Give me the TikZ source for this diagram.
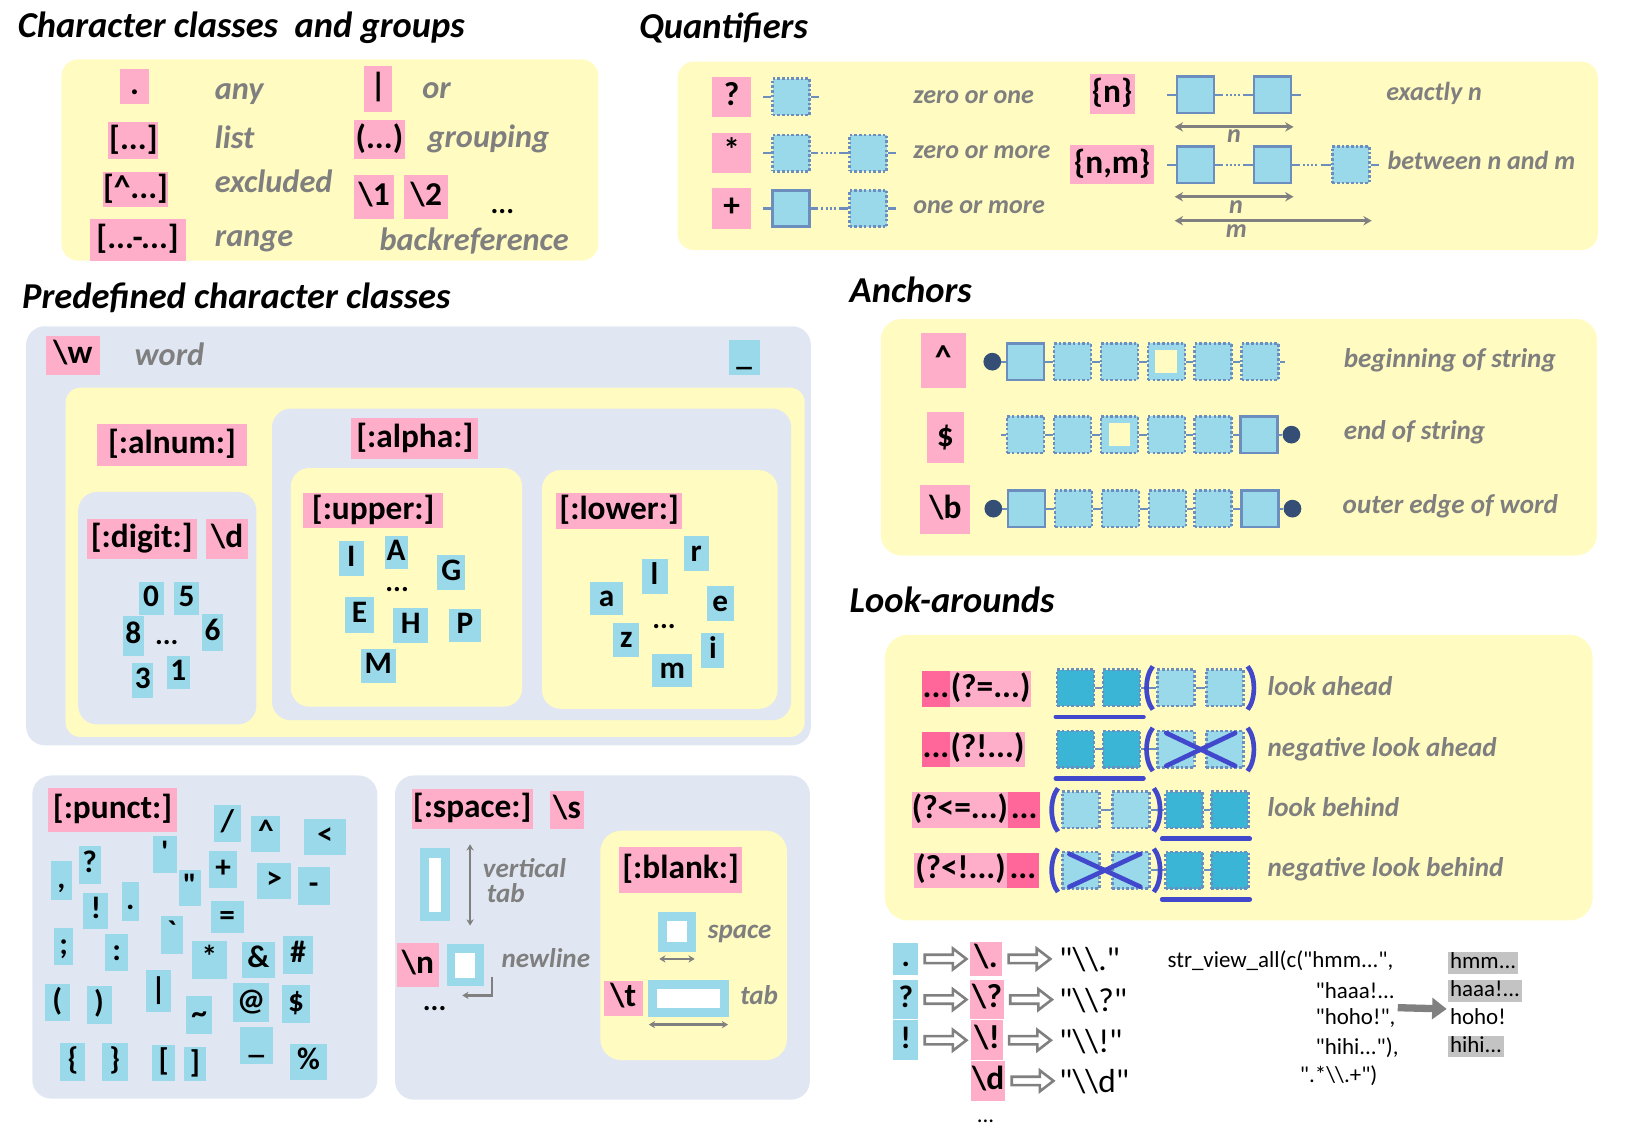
\documentclass[tikz,border=0pt]{standalone}
\usepackage{fontspec}
\setmainfont{Carlito}[Ligatures=TeXOff]
\usetikzlibrary{positioning,calc,arrows.meta}

\definecolor{ylw}{RGB}{255,251,193}
\definecolor{gry}{RGB}{225,231,242}
\definecolor{pnk}{RGB}{255,174,201}
\definecolor{dpnk}{RGB}{255,102,153}
\definecolor{lblu}{RGB}{153,217,234}
\definecolor{dblu}{RGB}{59,181,214}
\definecolor{edge}{RGB}{108,142,191}
\definecolor{navy}{RGB}{52,78,118}
\definecolor{parc}{RGB}{66,72,204}
\definecolor{txtg}{RGB}{127,127,127}
\definecolor{hlg}{RGB}{195,195,195}

\tikzset{
  sechead/.style={anchor=west, inner sep=0pt, font=\fontsize{35}{40}\selectfont\bfseries\itshape},
  lbl/.style={anchor=west, inner sep=0pt, text=txtg, text height=22pt, text depth=7pt, font=\fontsize{31}{36}\selectfont\bfseries\itshape},
  lbm/.style={lbl, text height=18pt, text depth=6pt, font=\fontsize{26}{30}\selectfont\bfseries\itshape},
  lbq/.style={lbl, text height=18pt, text depth=6pt, font=\fontsize{25}{30}\selectfont\bfseries\itshape},
  pk/.style={fill=pnk, inner sep=0pt, text height=23pt, text depth=7pt, font=\fontsize{32}{36}\selectfont\bfseries},
  dpk/.style={pk, fill=dpnk},
  bl/.style={pk, fill=lblu, text height=21pt, text depth=6pt, font=\fontsize{30}{34}\selectfont\bfseries},
  blk/.style={inner sep=0pt, font=\fontsize{28}{32}\selectfont\bfseries},
  slot/.style={draw=edge, fill=lblu, line width=2.5pt, minimum width=35.5pt, minimum height=35pt, inner sep=0pt},
  dslot/.style={slot, dash pattern=on 2.5pt off 2pt},
  mslot/.style={dslot, fill=dblu},
  hole/.style={fill=ylw, minimum width=21pt, minimum height=22pt, inner sep=0pt},
  lnk/.style={draw=edge, line width=2pt},
  dotlnk/.style={lnk, dash pattern=on 7pt off 3pt on 2pt off 2pt on 2pt off 2pt on 2pt off 2pt on 2pt off 3pt on 20pt},
  adot/.style={circle, fill=navy, minimum size=17pt, inner sep=0pt},
  dimq/.style={draw=gray, line width=3pt, {Stealth[length=8pt,width=9pt]}-{Stealth[length=8pt,width=9pt]}},
  dims/.style={draw=gray, line width=2.5pt, {Stealth[length=6pt,width=7pt]}-{Stealth[length=6pt,width=7pt]}},
  paren/.style={draw=parc, line width=4.5pt},
  uline/.style={draw=parc, line width=4.5pt, line cap=round},
  wsp/.style={fill=white, draw=lblu, inner sep=0pt},
  hollow/.style={draw=gray, fill=white, line width=2.5pt},
  esc/.style={anchor=west, inner sep=0pt, font=\fontsize{32}{36}\selectfont},
  code/.style={anchor=west, inner sep=0pt, font=\fontsize{22}{25}\selectfont},
  res/.style={anchor=west, inner xsep=2pt, inner ysep=1pt, fill=hlg, text height=15pt, text depth=4pt, font=\fontsize{22}{25}\selectfont},
  fat/.style={draw=gray, line width=7pt, -{Triangle[length=14pt,width=20pt]}}
}
\newcommand\holarrow[1]{\draw[hollow] ($(#1.east)+(6,-4)$) -- ++(27,0) -- ++(0,-6) -- ++(13,10) -- ++(-13,10) -- ++(0,-6) -- ++(-27,0) -- cycle;}

\begin{document}
\begin{tikzpicture}[x=1pt, y=-1pt]
    \useasboundingbox (0,0) rectangle (1560,1088);

    %CHARACTER CLASSES
    \node[sechead] (hcc) at (17,27) {Character classes\ \ and groups};
    \fill[ylw, rounded corners=16] (59,57) rectangle (574,250);
    \node[pk, minimum width=27, minimum height=34] (cany) at (129,83) {.};
    \node[pk, minimum width=48, minimum height=35] (clst) at (128,135) {[...]};
    \node[pk, minimum width=63, minimum height=34] (cexc) at (130,182) {[\textasciicircum...]};
    \node[pk, minimum width=92, minimum height=40] (crng) at (132,230) {[...-...]};
    \node[pk, minimum width=27, minimum height=44] (cor) at (363,85) {|};
    \node[pk, minimum width=49, minimum height=38] (cgrp) at (364,134) {(...)};
    \node[pk, minimum width=38, minimum height=42] (cbr1) at (359,189) {\textbackslash 1};
    \node[pk, minimum width=42, minimum height=42] (cbr2) at (409,189) {\textbackslash 2};
    \node[lbl] (tany) at (206,88) {any};
    \node[lbl] (tlst) at (206,135) {list};
    \node[lbl] (texc) at (206,177) {excluded};
    \node[lbl] (trng) at (206,229) {range};
    \node[lbl] (tor) at (405,87) {or};
    \node[lbl] (tgrp) at (410,134) {grouping};
    \node[blk] (tdots) at (482,203) {...};
    \node[lbl] (tbref) at (364,233) {backreference};

    %QUANTIFIERS
    \node[sechead] (hq) at (613,27) {Quantifiers};
    \fill[ylw, rounded corners=16] (650,59) rectangle (1533,240);
    \node[pk, minimum width=37, minimum height=38] (qz) at (702,93) {?};
    \node[pk, minimum width=37, minimum height=38] (qs) at (702,147) {*};
    \node[pk, minimum width=37, minimum height=39] (qp) at (702,200) {+};
    \node[dslot] (z1) at (759,93) {};
    \node[dslot] (s1) at (759,147) {};
    \node[dslot] (s2) at (833,147) {};
    \node[slot] (p1) at (759,200) {};
    \node[dslot] (p2) at (833,200) {};
    \draw[lnk] (z1.west) -- ++(-8,0) (z1.east) -- ++(8,0);
    \draw[lnk] (s1.west) -- ++(-8,0) (s2.east) -- ++(8,0);
    \draw[lnk] (p1.west) -- ++(-8,0) (p2.east) -- ++(8,0);
    \draw[dotlnk] (s1.east) -- (s2.west);
    \draw[dotlnk] (p1.east) -- (p2.west);
    \node[lbq] (tz) at (876,93) {zero or one};
    \node[lbq] (ts) at (876,146) {zero or more};
    \node[lbq] (tp) at (876,199) {one or more};

    \node[pk, minimum width=43, minimum height=38] (qn) at (1067,90) {\{n\}};
    \node[pk, minimum width=80, minimum height=38] (qnm) at (1067,158) {\{n,m\}};
    \node[slot] (n1) at (1147,91) {};
    \node[slot] (n2) at (1221,91) {};
    \node[slot] (m1) at (1147,158) {};
    \node[slot] (m2) at (1221,158) {};
    \node[dslot] (m3) at (1296,158) {};
    \draw[lnk] (n1.west) -- ++(-8,0) (n2.east) -- ++(8,0);
    \draw[lnk] (m1.west) -- ++(-8,0) (m3.east) -- ++(8,0);
    \draw[dotlnk] (n1.east) -- (n2.west);
    \draw[dotlnk] (m1.east) -- (m2.west);
    \draw[dotlnk] (m2.east) -- (m3.west);
    \draw[dimq] ($(n1.south west)+(-1,12)$) -- ($(n2.south east)+(1,12)$);
    \draw[dimq] ($(m1.south west)+(-1,12)$) -- ($(m2.south east)+(1,12)$);
    \draw[dimq] ($(m1.south west)+(-1,35)$) -- ($(m3.south east)+(1,35)$);
    \node[lbq] (tn1) at (1177,131) {n};
    \node[lbq] (tn2) at (1179,199) {n};
    \node[lbq] (tm) at (1176,222) {m};
    \node[lbq] (tex) at (1330,90) {exactly n};
    \node[lbq] (tbw) at (1331,157) {between n and m};

    %PREDEFINED
    \node[sechead] (hpc) at (21,286) {Predefined character classes};
    \fill[gry, rounded corners=18] (25,313) rectangle (778,715);
    \node[pk, minimum width=52, minimum height=37] (cw) at (70,341) {\textbackslash w};
    \node[lbl] (tw) at (129,343) {word};
    \node[bl, minimum width=30, minimum height=34] (uscore) at (714,343) {\_};
    \fill[ylw, rounded corners=14] (63,372) rectangle (772,707);
    \node[pk, minimum width=143, minimum height=40] (caln) at (165,427) {[:alnum:]};

    \fill[gry, rounded corners=18] (75,472) rectangle (246,695);
    \node[pk, minimum width=106, minimum height=39] (cdig) at (136,517) {[:digit:]};
    \node[pk, minimum width=40, minimum height=39] (cd) at (218,517) {\textbackslash d};
    \node[bl, minimum width=24, minimum height=32] (d0) at (145,574) {0};
    \node[bl, minimum width=24, minimum height=32] (d5) at (179,574) {5};
    \node[bl, minimum width=20, minimum height=38] (d8) at (128,610) {8};
    \node[blk] (ddots) at (160,616) {...};
    \node[bl, minimum width=20, minimum height=35] (d6) at (204,607) {6};
    \node[bl, minimum width=20, minimum height=34] (d3) at (137,653) {3};
    \node[bl, minimum width=22, minimum height=32] (d1) at (171,645) {1};

    \fill[gry, rounded corners=18] (261,392) rectangle (759,691);
    \node[pk, minimum width=122, minimum height=39] (calp) at (398,421) {[:alpha:]};
    \fill[ylw, rounded corners=18] (279,449) rectangle (501,678);
    \node[pk, minimum width=134, minimum height=34] (cupp) at (358,490) {[:upper:]};
    \node[bl, minimum width=24, minimum height=34] (uI) at (337,536) {I};
    \node[bl, minimum width=22, minimum height=32] (uA) at (380,530) {A};
    \node[blk] (udots) at (381,566) {...};
    \node[bl, minimum width=27, minimum height=34] (uG) at (433,549) {G};
    \node[bl, minimum width=28, minimum height=34] (uE) at (345,590) {E};
    \node[bl, minimum width=34, minimum height=33] (uH) at (394,600) {H};
    \node[bl, minimum width=30, minimum height=32] (uP) at (446,600) {P};
    \node[bl, minimum width=33, minimum height=33] (uM) at (363,639) {M};

    \fill[ylw, rounded corners=18] (520,451) rectangle (746,680);
    \node[pk, minimum width=121, minimum height=35] (clow) at (594,490) {[:lower:]};
    \node[bl, minimum width=24, minimum height=33] (lr) at (668,531) {r};
    \node[bl, minimum width=25, minimum height=34] (ll) at (628,553) {l};
    \node[bl, minimum width=32, minimum height=32] (la) at (582,574) {a};
    \node[bl, minimum width=26, minimum height=34] (le) at (691,579) {e};
    \node[bl, minimum width=25, minimum height=33] (lz) at (601,614) {z};
    \node[blk] (ldots) at (637,601) {...};
    \node[bl, minimum width=22, minimum height=33] (li) at (684,624) {i};
    \node[bl, minimum width=38, minimum height=32] (lm) at (645,643) {m};

    %PUNCT
    \fill[gry, rounded corners=18] (31,744) rectangle (362,1054);
    \node[pk, minimum width=123, minimum height=42] (cpun) at (108,777) {[:punct:]};
    \node[bl, minimum width=26, minimum height=35] (pslash) at (218,790) {/};
    \node[bl, minimum width=28, minimum height=35] (pcirc) at (255,800) {\textasciicircum};
    \node[bl, minimum width=40, minimum height=35] (plt) at (312,803) {<};
    \node[bl, minimum width=20, minimum height=37] (pcomma) at (59,845) {,};
    \node[bl, minimum width=21, minimum height=36] (pques) at (86,830) {?};
    \node[bl, minimum width=23, minimum height=36] (papos) at (158,820) {'};
    \node[bl, minimum width=21, minimum height=35] (pquot) at (182,852) {"};
    \node[bl, minimum width=27, minimum height=36] (pplus) at (214,834) {+};
    \node[bl, minimum width=32, minimum height=35] (pgt) at (263,845) {>};
    \node[bl, minimum width=31, minimum height=36] (pminus) at (301,850) {-};
    \node[bl, minimum width=24, minimum height=35] (pexcl) at (92,874) {!};
    \node[bl, minimum width=16, minimum height=37] (pdot) at (125,865) {.};
    \node[bl, minimum width=22, minimum height=36] (pgrave) at (165,897) {`};
    \node[bl, minimum width=32, minimum height=31] (peq) at (218,880) {=};
    \node[bl, minimum width=18, minimum height=36] (psemi) at (61,908) {;};
    \node[bl, minimum width=22, minimum height=36] (pcolon) at (112,914) {:};
    \node[bl, minimum width=33, minimum height=37] (pstar) at (201,921) {*};
    \node[bl, minimum width=32, minimum height=34] (pamp) at (248,921) {\&};
    \node[bl, minimum width=29, minimum height=36] (phash) at (286,916) {\#};
    \node[bl, minimum width=24, minimum height=36] (plpar) at (55,962) {(};
    \node[bl, minimum width=24, minimum height=36] (prpar) at (95,964) {)};
    \node[bl, minimum width=24, minimum height=40] (pbar) at (152,951) {|};
    \node[bl, minimum width=25, minimum height=36] (ptilde) at (191,974) {\textasciitilde};
    \node[bl, minimum width=34, minimum height=37] (pat) at (241,962) {@};
    \node[bl, minimum width=27, minimum height=36] (pdollar) at (284,963) {\$};
    \node[bl, minimum width=24, minimum height=37] (plbr) at (70,1019) {\{};
    \node[bl, minimum width=25, minimum height=37] (prbr) at (110,1019) {\}};
    \node[bl, minimum width=22, minimum height=35] (plsq) at (157,1020) {[};
    \node[bl, minimum width=21, minimum height=33] (prsq) at (187,1021) {]};
    \node[bl, minimum width=31, minimum height=36] (punder) at (246,1003) {\_};
    \node[bl, minimum width=35, minimum height=34] (pperc) at (296,1019) {\%};

    %SPACE
    \fill[gry, rounded corners=18] (379,744) rectangle (777,1055);
    \node[pk, minimum width=116, minimum height=39] (cspc) at (453,776) {[:space:]};
    \node[pk, minimum width=33, minimum height=37] (cs) at (544,777) {\textbackslash s};
    \node[wsp, line width=9pt, minimum width=20, minimum height=61] (vtab) at (417.5,849) {};
    \draw[dims] ($(vtab.north east)+(19,-4)$) -- ($(vtab.south east)+(19,4)$);
    \node[lbm] (tvt) at (463,836) {vertical};
    \node[lbm] (tvt2) at (467,860) {tab};
    \node[pk, minimum width=41, minimum height=42] (cn) at (401,926) {\textbackslash n};
    \node[wsp, line width=8pt, minimum width=27, minimum height=32] (nlb) at (446.5,926) {};
    \draw[draw=gray, line width=2.5pt, -{Stealth[length=6pt,width=7pt]}] ($(nlb.south east)+(8,-9)$) |- ($(nlb.south)+(-3,9)$);
    \node[lbm] (tnl) at (481,922) {newline};
    \node[blk] (sdots) at (417,968) {...};

    \fill[ylw, rounded corners=20] (576,797) rectangle (755,1017);
    \node[pk, minimum width=118, minimum height=44] (cblk) at (653,835) {[:blank:]};
    \node[wsp, line width=9pt, minimum width=28, minimum height=29] (spb) at (649.5,894) {};
    \draw[dims] ($(spb.center)+(-17,26)$) -- ($(spb.center)+(17,26)$);
    \node[lbm] (tsp) at (679,894) {space};
    \node[pk, minimum width=37, minimum height=34] (ct) at (598,958) {\textbackslash t};
    \node[wsp, line width=8.5pt, minimum width=68.5, minimum height=27.5] (tbb) at (660.5,958) {};
    \draw[dims] ($(tbb.center)+(-38,25)$) -- ($(tbb.center)+(38,25)$);
    \node[lbm] (ttb) at (710,958) {tab};

    %ANCHORS
    \node[sechead] (ha) at (815,278) {Anchors};
    \fill[ylw, rounded corners=20] (845,306) rectangle (1532,533);
    \node[pk, minimum width=43, minimum height=53] (acirc) at (905,346) {\textasciicircum};
    \node[pk, minimum width=36, minimum height=49] (adol) at (907,420) {\$};
    \node[pk, minimum width=48, minimum height=47] (ab) at (907,489) {\textbackslash b};

    \node[adot] (rad) at (952,347) {};
    \node[slot] (ra1) at (984,347) {};
    \node[dslot] (ra2) at (1029,347) {};
    \node[dslot] (ra3) at (1074,347) {};
    \node[dslot] (ra4) at (1119,347) {};
    \node[hole] (ra4h) at (ra4) {};
    \node[dslot] (ra5) at (1164,347) {};
    \node[dslot] (ra6) at (1209,347) {};
    \draw[lnk] (rad.east) -- (ra1.west) (ra1.east) -- (ra2.west) (ra2.east) -- (ra3.west)
      (ra3.east) -- (ra4.west) (ra4.east) -- (ra5.west) (ra5.east) -- (ra6.west) (ra6.east) -- ++(5,0);

    \node[dslot] (rb1) at (984,417) {};
    \node[dslot] (rb2) at (1029,417) {};
    \node[dslot] (rb3) at (1074,417) {};
    \node[hole] (rb3h) at (rb3) {};
    \node[dslot] (rb4) at (1119,417) {};
    \node[dslot] (rb5) at (1164,417) {};
    \node[slot] (rb6) at (1208,417) {};
    \node[adot] (rbd) at (1239,417) {};
    \draw[lnk] (rb1.west) -- ++(-5,0) (rb1.east) -- (rb2.west) (rb2.east) -- (rb3.west) (rb3.east) -- (rb4.west)
      (rb4.east) -- (rb5.west) (rb5.east) -- (rb6.west) (rb6.east) -- (rbd.west);

    \node[adot] (rcd) at (953,488) {};
    \node[slot] (rc1) at (985,488) {};
    \node[dslot] (rc2) at (1030,488) {};
    \node[dslot] (rc3) at (1075,488) {};
    \node[dslot] (rc4) at (1120,488) {};
    \node[dslot] (rc5) at (1164,488) {};
    \node[slot] (rc6) at (1209,488) {};
    \node[adot] (rce) at (1240,488) {};
    \draw[lnk] (rcd.east) -- (rc1.west) (rc1.east) -- (rc2.west) (rc2.east) -- (rc3.west) (rc3.east) -- (rc4.west)
      (rc4.east) -- (rc5.west) (rc5.east) -- (rc6.west) (rc6.east) -- (rce.west);
    \node[lbm] (tbeg) at (1289,347) {beginning of string};
    \node[lbm] (tend) at (1289,416) {end of string};
    \node[lbm] (tedge) at (1288,487) {outer edge of word};

    %LOOK-AROUNDS
    \node[sechead] (hl) at (815,575) {Look-arounds};
    \fill[ylw, rounded corners=22] (849,609) rectangle (1528,883);
    \node[dpk, minimum width=26, minimum height=34] (la1d) at (898,661) {...};
    \node[pk, minimum width=78, minimum height=34, right=0pt of la1d] (la1) {(?=...)};
    \node[dpk, minimum width=26, minimum height=34] (la2d) at (898,719) {...};
    \node[pk, minimum width=72, minimum height=34, right=0pt of la2d] (la2) {(?!...)};
    \node[pk, minimum width=90, minimum height=35] (lb1) at (921,777) {(?<=...)};
    \node[dpk, minimum width=30, minimum height=35, right=0pt of lb1] (lb1d) {...};
    \node[pk, minimum width=89, minimum height=34] (lb2) at (921.5,835) {(?<!...)};
    \node[dpk, minimum width=30, minimum height=34, right=0pt of lb2] (lb2d) {...};

    % ahead
    \node[mslot] (a1) at (1032,660) {};
    \node[mslot] (a2) at (1076,660) {};
    \node[dslot] (a3) at (1128,660) {};
    \node[dslot] (a4) at (1175,660) {};
    \draw[lnk] (a1.east) -- (a2.west) (a2.east) -- (a3.west) (a3.east) -- (a4.west);
    \draw[paren] ($(a3.north west)+(-3,-2)$) .. controls +(-8,10) and +(-8,-10) .. ($(a3.south west)+(-3,2)$);
    \draw[paren] ($(a4.north east)+(3,-2)$) .. controls +(8,10) and +(8,-10) .. ($(a4.south east)+(3,2)$);
    \draw[uline] ($(a1.south west)+(0,9)$) -- ($(a2.south east)+(2,9)$);

    \node[mslot] (b1) at (1032,719) {};
    \node[mslot] (b2) at (1076,719) {};
    \node[dslot] (b3) at (1128,719) {};
    \node[dslot] (b4) at (1175,719) {};
    \draw[lnk] (b1.east) -- (b2.west) (b2.east) -- (b3.west) (b3.east) -- (b4.west);
    \draw[paren] ($(b3.north west)+(-3,-2)$) .. controls +(-8,10) and +(-8,-10) .. ($(b3.south west)+(-3,2)$);
    \draw[paren] ($(b4.north east)+(3,-2)$) .. controls +(8,10) and +(8,-10) .. ($(b4.south east)+(3,2)$);
    \draw[uline] ($(b1.south west)+(0,9)$) -- ($(b2.south east)+(2,9)$);
    \draw[uline] ($(b3.north west)+(10,3)$) -- ($(b4.south east)+(-9,-3)$);
    \draw[uline] ($(b3.south west)+(10,-3)$) -- ($(b4.north east)+(-9,3)$);

    % behind
    \node[dslot] (c1) at (1037,777) {};
    \node[dslot] (c2) at (1085,777) {};
    \node[mslot] (c3) at (1136,777) {};
    \node[mslot] (c4) at (1180,777) {};
    \draw[lnk] (c1.east) -- (c2.west) (c2.east) -- (c3.west) (c3.east) -- (c4.west);
    \draw[paren] ($(c1.north west)+(-3,-2)$) .. controls +(-8,10) and +(-8,-10) .. ($(c1.south west)+(-3,2)$);
    \draw[paren] ($(c2.north east)+(3,-2)$) .. controls +(8,10) and +(8,-10) .. ($(c2.south east)+(3,2)$);
    \draw[uline] ($(c3.south west)+(-2,9)$) -- ($(c4.south east)+(0,9)$);

    \node[dslot] (e1) at (1037,835) {};
    \node[dslot] (e2) at (1085,835) {};
    \node[mslot] (e3) at (1136,835) {};
    \node[mslot] (e4) at (1180,835) {};
    \draw[lnk] (e1.east) -- (e2.west) (e2.east) -- (e3.west) (e3.east) -- (e4.west);
    \draw[paren] ($(e1.north west)+(-3,-2)$) .. controls +(-8,10) and +(-8,-10) .. ($(e1.south west)+(-3,2)$);
    \draw[paren] ($(e2.north east)+(3,-2)$) .. controls +(8,10) and +(8,-10) .. ($(e2.south east)+(3,2)$);
    \draw[uline] ($(e3.south west)+(-2,9)$) -- ($(e4.south east)+(0,9)$);
    \draw[uline] ($(e1.north west)+(8,3)$) -- ($(e2.south east)+(-10,-3)$);
    \draw[uline] ($(e1.south west)+(8,-3)$) -- ($(e2.north east)+(-10,3)$);

    \node[lbm] (tla) at (1216,661) {look ahead};
    \node[lbm] (tnla) at (1216,720) {negative look ahead};
    \node[lbm] (tlb) at (1216,777) {look behind};
    \node[lbm] (tnlb) at (1216,835) {negative look behind};

    %ESCAPES
    \node[bl, minimum width=24, minimum height=31] (ex1) at (869,920) {.};
    \node[pk, minimum width=31, minimum height=33] (ep1) at (946,920) {\textbackslash.};
    \node[esc] (es1) at (1016,921) {"\textbackslash\textbackslash."};
    \holarrow{ex1} \holarrow{ep1}
    \node[bl, minimum width=24, minimum height=38] (ex2) at (869,959) {?};
    \node[pk, minimum width=32, minimum height=38] (ep2) at (947,959) {\textbackslash?};
    \node[esc] (es2) at (1016,960) {"\textbackslash\textbackslash?"};
    \holarrow{ex2} \holarrow{ep2}
    \node[bl, minimum width=24, minimum height=38] (ex3) at (869,998) {!};
    \node[pk, minimum width=30, minimum height=38] (ep3) at (947,998) {\textbackslash!};
    \node[esc] (es3) at (1016,999) {"\textbackslash\textbackslash!"};
    \holarrow{ex3} \holarrow{ep3}
    \node[pk, minimum width=33, minimum height=39] (ep4) at (948,1037) {\textbackslash d};
    \node[esc] (es4) at (1016,1038) {"\textbackslash\textbackslash d"};
    \holarrow{ep4}
    \node[code] (edots) at (937,1076) {...};

    %STR_VIEW
    \node[code] (cl1) at (1120,922) {str\_view\_all(c("hmm...",};
    \node[code] (cl2) at (1262,950) {"haaa!...};
    \node[code] (cl3) at (1262,977) {"hoho!",};
    \node[code] (cl4) at (1262,1005) {"hihi..."),};
    \node[code] (cl5) at (1247,1032) {".*\textbackslash\textbackslash.+")};
    \node[res] (rs1) at (1389,924) {hmm...};
    \node[res] (rs2) at (1389,951) {haaa!...};
    \node[res, fill=none] (rs3) at (1389,977) {hoho!};
    \node[res] (rs4) at (1389,1004) {hihi...};
    \draw[fat] ($(cl3.north east)+(2,-1)$) -- ($(rs3.west)+(-1,-9)$);
\end{tikzpicture}
\end{document}
